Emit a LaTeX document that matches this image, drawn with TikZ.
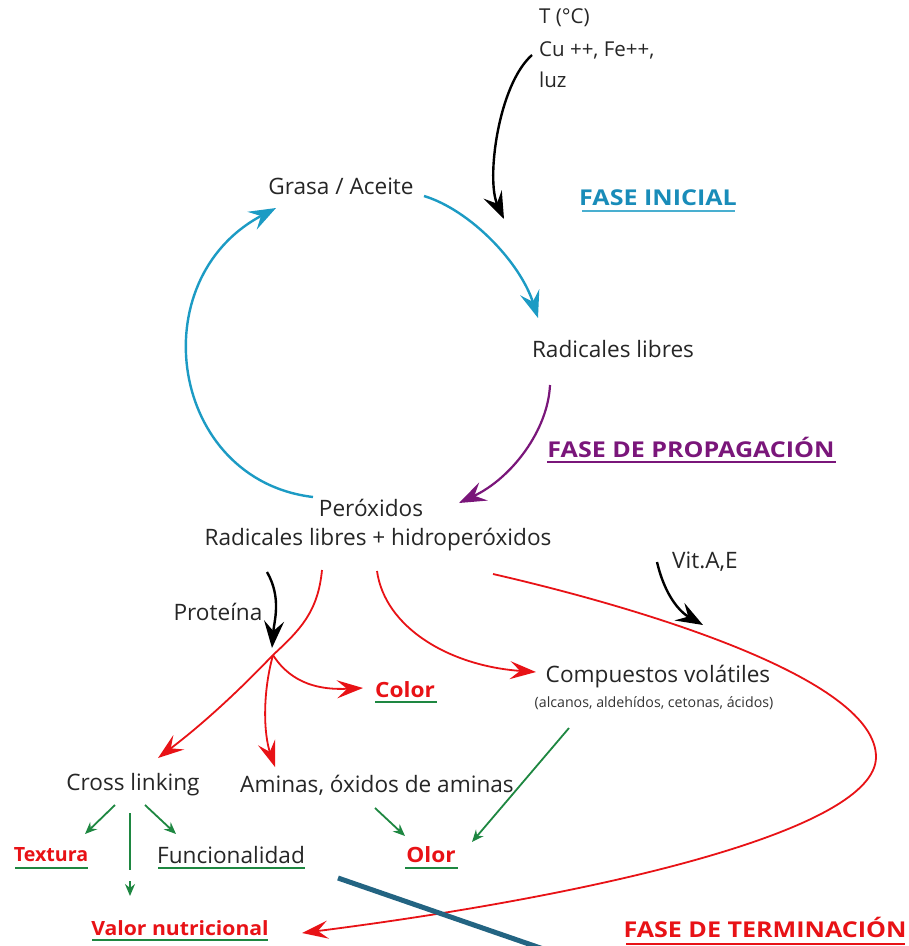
\documentclass[tikz,border=0pt]{standalone}
\usepackage{fontspec}
\setmainfont{Open Sans}
\newfontfamily\ttlfont{Open Sans}[FakeStretch=1.15]
\newfontfamily\efffont{Open Sans}[FakeStretch=1.08]
\usetikzlibrary{arrows.meta}
\definecolor{cyA}{RGB}{28,155,196}
\definecolor{cyT}{RGB}{25,140,185}
\definecolor{puA}{RGB}{122,22,122}
\definecolor{rdA}{RGB}{232,18,22}
\definecolor{grA}{RGB}{30,135,65}
\definecolor{tlA}{RGB}{35,100,130}
\begin{document}
\begin{tikzpicture}[x=1pt,y=-1pt,
  lbl/.style={inner sep=1pt, text=black!85, font=\fontsize{22.6}{26}\selectfont},
  sml/.style={inner sep=1pt, text=black!85, font=\fontsize{20.5}{24}\selectfont},
  tiny/.style={inner sep=1pt, text=black!80, font=\fontsize{14.2}{17}\selectfont},
  ttl/.style={inner sep=1pt, font=\ttlfont\fontsize{21.8}{25}\selectfont\bfseries},
  eff/.style={inner sep=1pt, text=rdA, font=\efffont\fontsize{21}{25}\selectfont\bfseries},
  effs/.style={inner sep=1pt, text=rdA, font=\efffont\fontsize{19.6}{23}\selectfont\bfseries},
  efft/.style={inner sep=1pt, text=rdA, font=\fontsize{19.6}{23}\selectfont\bfseries},
  bigtip/.style={-{Stealth[length=27pt,width=20pt,inset=10pt]}},
  midtip/.style={-{Stealth[length=26pt,width=18pt,inset=10pt]}},
  smalltip/.style={-{Stealth[length=12pt,width=10pt,inset=4pt]}},
  cyarr/.style={draw=cyA, line width=2.4pt, bigtip},
  puarr/.style={draw=puA, line width=2.2pt, bigtip},
  bkarr/.style={draw=black, line width=2.4pt, bigtip},
  rdarr/.style={draw=rdA, line width=1.8pt, midtip},
  grarr/.style={draw=grA, line width=1.8pt, smalltip},
  grul/.style={draw=grA, line width=1.8pt},
]
\fill[white] (0,0) rectangle (909,946);
\useasboundingbox (0,0) rectangle (909,946);

% text nodes
\node[sml,anchor=west] (t1) at (538,18) {T (°C)};
\node[sml,anchor=west] (t2) at (538,50) {Cu ++, Fe++,};
\node[sml,anchor=west] (t3) at (538,80) {luz};
\node[lbl] (grasa) at (341,186) {Grasa / Aceite};
\node[lbl] (radic) at (613,349) {Radicales libres};
\node[lbl] (perox) at (371,508) {Peróxidos};
\node[lbl] (radhid) at (378,540) {Radicales libres + hidroperóxidos};
\node[lbl] (prot) at (218,612) {Proteína};
\node[lbl] (vit) at (705,562) {Vit.A,E};
\node[lbl] (comp) at (658,677) {Compuestos volátiles};
\node[tiny] (alc) at (654,703) {(alcanos, aldehídos, cetonas, ácidos)};
\node[lbl] (cross) at (133,785) {Cross linking};
\node[lbl] (amin) at (377,785) {Aminas, óxidos de aminas};
\node[eff] (color) at (405,690) {Color};
\node[efft] (text) at (51,855) {Textura};
\node[lbl] (func) at (231,855) {Funcionalidad};
\node[eff] (olor) at (431,855) {Olor};
\node[effs] (valor) at (180,928) {Valor nutricional};
\node[ttl,text=cyT] (fi) at (658,198) {FASE INICIAL};
\node[ttl,text=puA] (fp) at (691,447) {FASE DE PROPAGACIÓN};
\node[ttl,text=rdA] (ft) at (765,927) {FASE DE TERMINACIÓN};

% underlines
\draw[cyA!80, line width=2pt] (582,211) -- (735,211);
\draw[puA, line width=2pt] (547,462) -- (836,462);
\draw[rdA, line width=2pt] (626,944) -- (905,944);
\draw[grul] (375,702) -- (437,702);
\draw[grul] (15,868) -- (88,868);
\draw[grul] (158,868) -- (305,868);
\draw[grul] (405,868) -- (458,868);
\draw[grul] (92,940) -- (268,940);

% free ends
\coordinate (a0) at (532,55);   \coordinate (a1) at (504,219);
\coordinate (g0) at (424,196);  \coordinate (g1) at (538,318);
\coordinate (r0) at (550,385);  \coordinate (r1) at (459,503);
\coordinate (p0) at (313,497);  \coordinate (p1) at (276,208);
\coordinate (pr0) at (267,572); \coordinate (pr1) at (272,648);
\coordinate (s0) at (322,570);  \coordinate (J) at (273,655);
\coordinate (xc) at (158,758);  \coordinate (xa) at (275,767);
\coordinate (xo) at (363,688);
\coordinate (s1) at (377,571);  \coordinate (cv) at (536,672);
\coordinate (s2) at (493,574);  \coordinate (far) at (876,757);
\coordinate (vn) at (302,933);
\coordinate (v0) at (657,562);  \coordinate (v1) at (703,625);
\coordinate (c0) at (115,805);  \coordinate (c1) at (85,834);
\coordinate (d0) at (130,813);  \coordinate (d1) at (130,870);
\coordinate (d2) at (130,881);  \coordinate (d3) at (130,896);
\coordinate (e0) at (145,805);  \coordinate (e1) at (176,834);
\coordinate (m0) at (375,808);  \coordinate (m1) at (405,836);
\coordinate (k0) at (569,728);  \coordinate (k1) at (472,842);
\coordinate (z0) at (338,878);  \coordinate (z1) at (552,952);

% cycle
\draw[bkarr] (a0) .. controls (498,85) and (486,180) .. (a1);
\draw[cyarr] (g0) .. controls (470,210) and (520,262) .. (g1);
\draw[puarr] (r0) .. controls (548,430) and (512,478) .. (r1);
\draw[cyarr] (p0) .. controls (170,480) and (140,280) .. (p1);

% proteina
\draw[bkarr] (pr0) .. controls (282,598) and (274,622) .. (pr1);

% red branches
\draw[rdA, line width=1.8pt] (s0) .. controls (318,612) and (300,630) .. (J);
\draw[rdarr] (J) .. controls (230,700) and (195,730) .. (xc);
\draw[rdarr] (J) .. controls (262,695) and (264,735) .. (xa);
\draw[rdarr] (J) .. controls (292,685) and (322,690) .. (xo);
\draw[rdarr] (s1) .. controls (385,628) and (450,666) .. (cv);
\draw[rdarr] (s2) .. controls (650,610) and (876,680) .. (far)
                  .. controls (876,830) and (600,895) .. (vn);

% vit
\draw[bkarr] (v0) .. controls (665,596) and (680,612) .. (v1);

% green
\draw[grarr] (c0) -- (c1);
\draw[grul] (d0) -- (d1);
\draw[grarr] (d2) -- (d3);
\draw[grarr] (e0) -- (e1);
\draw[grarr] (m0) -- (m1);
\draw[grarr] (k0) -- (k1);

% teal stroke
\draw[tlA, line width=5pt] (z0) -- (z1);
\end{tikzpicture}
\end{document}
